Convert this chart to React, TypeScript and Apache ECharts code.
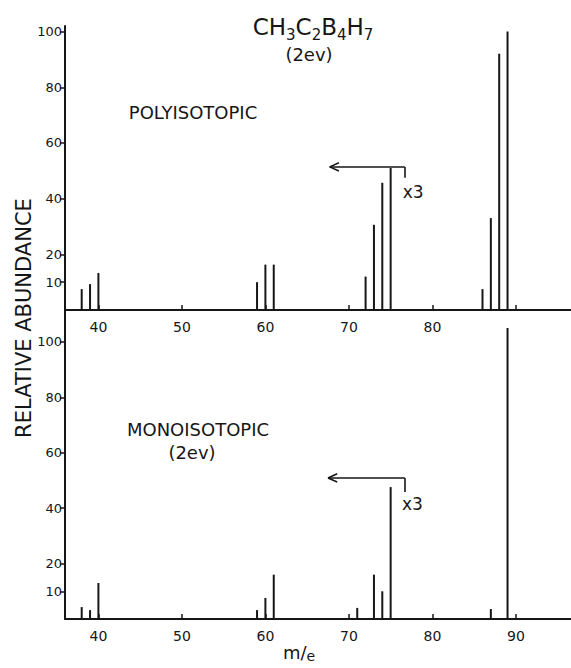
import React, { useEffect, useRef } from 'react';
import * as echarts from 'echarts';

// m/e values and relative abundances
const polyMass = [38, 39, 40, 59, 60, 61, 72, 73, 74, 75, 86, 87, 88, 89];
const polyAbund = [7.5, 9.3, 13.3, 10, 16.3, 16.3, 12, 30.6, 45.7, 51, 7.5, 33, 92, 100];
const monoMass = [38, 39, 40, 59, 60, 61, 71, 73, 74, 75, 87, 89];
const monoAbund = [4.3, 3.2, 13, 3.2, 7.6, 16, 4, 16, 10, 47.6, 3.6, 105];

const yTickValues = [10, 20, 40, 60, 80, 100];
const xTickValues = [40, 50, 60, 70, 80, 90];
const polyXLabels = [40, 50, 60, 70, 80];
const monoXLabels = [40, 50, 60, 70, 80, 90];

// "x3" scale-change marker: [m/e right end, m/e arrow tip, level, lower end, label m/e, label level]
const polyMarker = [76.7, 67.7, 51.4, 47.5, 77.7, 42.4];
const monoMarker = [76.7, 67.5, 50.9, 45.8, 77.6, 41.5];

const INK = '#161616';
const FONT = 'DejaVu Sans';

function markerLines(m: number[]) {
  const [right, tip, level, low] = m;
  return [
    [{ coord: [right, level] }, { coord: [tip, level] }],
    [{ coord: [right, level] }, { coord: [right, low] }],
    [{ coord: [tip, level] }, { coord: [tip + 1.1, level + 1.5] }],
    [{ coord: [tip, level] }, { coord: [tip + 1.1, level - 1.5] }],
  ];
}

function makeSeries(idx: number, mass: number[], abund: number[], m: number[]) {
  return {
    type: 'bar',
    xAxisIndex: idx,
    yAxisIndex: idx,
    barWidth: 2,
    silent: true,
    itemStyle: { color: INK },
    data: mass.map((x, i) => [x, abund[i]]),
    markLine: {
      silent: true,
      symbol: 'none',
      animation: false,
      lineStyle: { color: INK, width: 1.6, type: 'solid' },
      label: { show: false },
      emphasis: { disabled: true },
      data: markerLines(m),
    },
    markPoint: {
      silent: true,
      symbol: 'rect',
      symbolSize: 1,
      itemStyle: { color: 'rgba(0,0,0,0)' },
      label: {
        show: true,
        position: 'inside',
        formatter: 'x3',
        color: INK,
        fontFamily: FONT,
        fontSize: 17,
      },
      data: [{ coord: [m[4], m[5]] }],
    },
  };
}

function makeXAxis(idx: number, labels: number[]) {
  return {
    type: 'value',
    gridIndex: idx,
    min: 36,
    max: 96.6,
    axisLine: { show: true, onZero: false, lineStyle: { color: INK, width: 2 } },
    axisTick: {
      show: true,
      inside: true,
      length: 5,
      customValues: xTickValues,
      lineStyle: { color: INK, width: 1.5 },
    },
    axisLabel: {
      show: true,
      customValues: labels,
      margin: 10,
      color: INK,
      fontFamily: FONT,
      fontSize: 14,
    },
    splitLine: { show: false },
  };
}

function makeYAxis(idx: number, max: number) {
  return {
    type: 'value',
    gridIndex: idx,
    min: 0,
    max,
    axisLine: { show: true, onZero: false, lineStyle: { color: INK, width: 2 } },
    axisTick: {
      show: true,
      inside: false,
      length: 5,
      customValues: yTickValues,
      lineStyle: { color: INK, width: 1.5 },
    },
    axisLabel: {
      show: true,
      customValues: yTickValues,
      margin: 3,
      color: INK,
      fontFamily: FONT,
      fontSize: 13,
    },
    splitLine: { show: false },
  };
}

export default function App() {
  const ref = useRef<HTMLDivElement>(null);

  useEffect(() => {
    if (!ref.current) return;
    const chart = echarts.init(ref.current, undefined, { renderer: 'svg' });
    const textStyle = (extra: any) => ({ fill: INK, fontFamily: FONT, ...extra });
    chart.setOption({
      animation: false,
      backgroundColor: '#ffffff',
      grid: [
        { left: 65, right: 0, top: 26, bottom: 358, outerBoundsMode: 'none', containLabel: false },
        { left: 65, right: 0, top: 310, bottom: 49, outerBoundsMode: 'none', containLabel: false },
      ],
      xAxis: [makeXAxis(0, polyXLabels), makeXAxis(1, monoXLabels)],
      yAxis: [makeYAxis(0, 102), makeYAxis(1, 111.5)],
      series: [
        makeSeries(0, polyMass, polyAbund, polyMarker),
        makeSeries(1, monoMass, monoAbund, monoMarker),
      ],
      graphic: [
        {
          type: 'text',
          x: 313,
          y: 27,
          style: textStyle({
            text: '{n|CH}{s|3}{n|C}{s|2}{n|B}{s|4}{n|H}{s|7}',
            align: 'center',
            verticalAlign: 'middle',
            rich: {
              n: { fontSize: 23, lineHeight: 30, fontFamily: FONT, fill: INK },
              s: { fontSize: 15, lineHeight: 15, verticalAlign: 'bottom', fontFamily: FONT, fill: INK },
            },
          }),
        },
        {
          type: 'text',
          x: 309,
          y: 54,
          style: textStyle({ text: '(2ev)', fontSize: 18, align: 'center', verticalAlign: 'middle' }),
        },
        {
          type: 'text',
          x: 193,
          y: 112,
          style: textStyle({ text: 'POLYISOTOPIC', fontSize: 18, align: 'center', verticalAlign: 'middle' }),
        },
        {
          type: 'text',
          x: 198,
          y: 429,
          style: textStyle({ text: 'MONOISOTOPIC', fontSize: 18, align: 'center', verticalAlign: 'middle' }),
        },
        {
          type: 'text',
          x: 192,
          y: 452,
          style: textStyle({ text: '(2ev)', fontSize: 18, align: 'center', verticalAlign: 'middle' }),
        },
        {
          type: 'text',
          x: 24,
          y: 318,
          rotation: Math.PI / 2,
          style: textStyle({
            text: 'RELATIVE ABUNDANCE',
            fontSize: 21,
            align: 'center',
            verticalAlign: 'middle',
          }),
        },
        {
          type: 'text',
          x: 299,
          y: 652,
          style: textStyle({
            text: '{n|m}{n|/}{s|e}',
            align: 'center',
            verticalAlign: 'middle',
            rich: {
              n: { fontSize: 18, lineHeight: 22, fontFamily: FONT, fill: INK },
              s: { fontSize: 14, lineHeight: 12, verticalAlign: 'bottom', fontFamily: FONT, fill: INK },
            },
          }),
        },
      ],
    });
    return () => chart.dispose();
  }, []);

  return (
    <div
      ref={ref}
      style={{ position: 'absolute', left: 0, top: 0, width: 571, height: 668 }}
    />
  );
}
